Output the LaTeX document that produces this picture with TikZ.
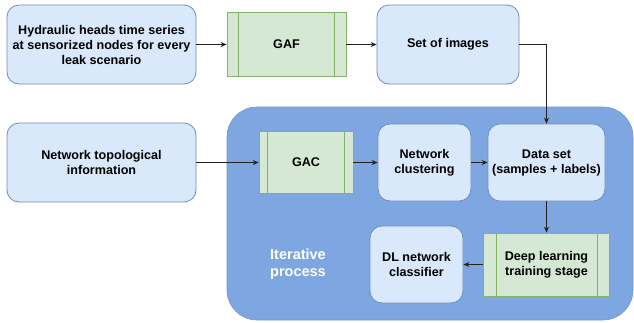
\documentclass[tikz,border=0pt]{standalone}
\usepackage{fontspec}
\setmainfont{Liberation Sans}
\usetikzlibrary{arrows.meta,positioning}
\definecolor{bfill}{HTML}{DAE8FC}
\definecolor{bdraw}{HTML}{6C8EBF}
\definecolor{gfill}{HTML}{D5E8D4}
\definecolor{gdraw}{HTML}{82B366}
\definecolor{bigfill}{HTML}{7EA6E0}
\definecolor{linec}{HTML}{222222}
\tikzset{
  bluebox/.style={draw=bdraw, fill=bfill, line width=0.8pt, rounded corners=12pt,
    inner sep=0pt, align=center, font=\bfseries\fontsize{12.6}{15}\selectfont},
  greenbox/.style={draw=gdraw, fill=gfill, line width=0.8pt,
    inner sep=0pt, align=center, font=\bfseries\fontsize{12.6}{15}\selectfont},
  inline/.style={draw=gdraw, line width=0.8pt},
  conn/.style={draw=linec, line width=0.8pt, -{Stealth[length=6pt,width=5pt]}},
}
\begin{document}
\begin{tikzpicture}[x=1pt,y=-1pt]
\useasboundingbox (0,0) rectangle (634,322);
% iterative process container
\node[fill=bigfill, draw=bigfill!90!black, line width=0.6pt, rounded corners=30pt,
  minimum width=406pt, minimum height=213pt, inner sep=0pt] (big) at (430,213.5) {};
\node[text=white, font=\bfseries\fontsize{14.5}{17}\selectfont, align=center] (iter) at (298,264.5) {Iterative\\process};

% top row
\node[bluebox, minimum width=189pt, minimum height=79pt] (hyd) at (101.5,44.5)
  {Hydraulic heads time series\\at sensorized nodes for every\\leak scenario};
\node[greenbox, minimum width=119pt, minimum height=64pt] (gaf) at (286.5,44.5) {GAF};
\draw[inline] ([xshift=12pt]gaf.north west) -- ([xshift=12pt]gaf.south west);
\draw[inline] ([xshift=-12pt]gaf.north east) -- ([xshift=-12pt]gaf.south east);
\node[bluebox, minimum width=142pt, minimum height=79pt] (imgs) at (448,44.5) {Set of images};

% middle row
\node[bluebox, minimum width=189pt, minimum height=79pt] (topo) at (101.5,162.5)
  {Network topological\\information};
\node[greenbox, minimum width=94pt, minimum height=62pt] (gac) at (306,162.5) {GAC};
\draw[inline] ([xshift=9pt]gac.north west) -- ([xshift=9pt]gac.south west);
\draw[inline] ([xshift=-9pt]gac.north east) -- ([xshift=-9pt]gac.south east);
\node[bluebox, minimum width=93pt, minimum height=77pt] (clus) at (424.5,162.5)
  {Network\\clustering};
\node[bluebox, minimum width=117pt, minimum height=77pt] (data) at (546.5,162.5)
  {Data set\\(samples + labels)};

% bottom row
\node[greenbox, minimum width=126pt, minimum height=63pt] (deep) at (546.5,264.5)
  {Deep learning\\training stage};
\draw[inline] ([xshift=13pt]deep.north west) -- ([xshift=13pt]deep.south west);
\draw[inline] ([xshift=-13pt]deep.north east) -- ([xshift=-13pt]deep.south east);
\node[bluebox, minimum width=93pt, minimum height=77pt] (dl) at (416.5,264.5)
  {DL network\\classifier};

% connectors
\draw[conn] (hyd.east) -- (gaf.west);
\draw[conn] (gaf.east) -- (imgs.west);
\draw[conn] (imgs.east) -| (data.north);
\draw[conn] (topo.east) -- (gac.west);
\draw[conn] (gac.east) -- (clus.west);
\draw[conn] (clus.east) -- (data.west);
\draw[conn] (data.south) -- (deep.north);
\draw[conn] (deep.west) -- (dl.east);
\end{tikzpicture}
\end{document}
